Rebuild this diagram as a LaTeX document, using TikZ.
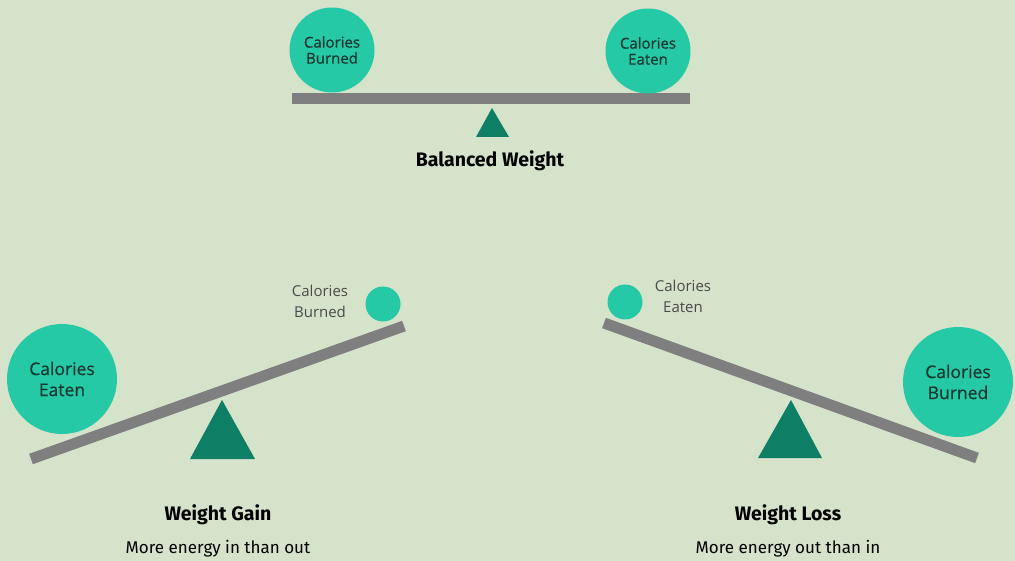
\documentclass[tikz,border=0pt]{standalone}
\usepackage{fontspec}
\setmainfont{Fira Sans}
\newfontfamily\circfont{Open Sans}
\newfontfamily\circfontb{Open Sans}[FakeBold=0.6]
\usetikzlibrary{shapes.geometric}
\definecolor{bg}{HTML}{D5E3CB}
\definecolor{teal}{HTML}{26C9A5}
\definecolor{fulcrum}{HTML}{0E7F64}
\definecolor{beamgray}{HTML}{7F7F7F}
\definecolor{circtext}{HTML}{163830}
\definecolor{lbltext}{HTML}{4A4A4A}
\tikzset{
  ball/.style={circle, fill=teal, inner sep=0pt, minimum size=#1, align=center, text=circtext, font=\circfontb\fontsize{15}{18}\selectfont},
  beam/.style={draw=beamgray, line width=11pt, line cap=butt},
  pivot/.style={fill=fulcrum},
  sidelabel/.style={align=center, text=lbltext, font=\circfont\fontsize{15}{21}\selectfont},
  title/.style={font=\bfseries\fontsize{19.5}{22}\selectfont, text=black},
  subtitle/.style={font=\fontsize{17}{20}\selectfont, text=black},
}
\begin{document}
\begin{tikzpicture}[x=1pt,y=-1pt]
\fill[bg] (0,0) rectangle (1015,561);
\useasboundingbox (0,0) rectangle (1015,561);
% top balanced
\coordinate (tl) at (292,99);
\coordinate (tr) at (690,99);
\draw[beam] (tl) -- (tr);
\fill[pivot] (492,108) -- (509,137) -- (476,137) -- cycle;
\node[ball=85pt] (tb) at (332,50) {Calories\\[-2pt]Burned};
\node[ball=85pt] (te) at (648,51) {Calories\\[-2pt]Eaten};
\node[title] (bw) at (490,161) {Balanced Weight};
% bottom left: weight gain
\coordinate (gl) at (31,459);
\coordinate (gr) at (404,326);
\draw[beam] (gl) -- (gr);
\fill[pivot] (222,400) -- (255,459) -- (190,459) -- cycle;
\node[ball=110pt, font=\circfontb\fontsize{17.5}{21}\selectfont] (ge) at (62,379) {Calories\\Eaten};
\node[ball=35pt] (gb) at (383,304) {};
\node[sidelabel] (gbl) at (320,301) {Calories\\Burned};
\node[title] (wg) at (218,515) {Weight Gain};
\node[subtitle] (wgs) at (218,549) {More energy in than out};
% bottom right: weight loss
\coordinate (ll) at (604,323);
\coordinate (lr) at (977,458);
\draw[beam] (ll) -- (lr);
\fill[pivot] (791,400) -- (822,458) -- (758,458) -- cycle;
\node[ball=35pt] (le) at (625,302) {};
\node[sidelabel] (lel) at (683,296) {Calories\\Eaten};
\node[ball=110pt, font=\circfontb\fontsize{17.5}{21}\selectfont] (lb) at (958,382) {Calories\\Burned};
\node[title] (wl) at (788,515) {Weight Loss};
\node[subtitle] (wls) at (788,549) {More energy out than in};
\end{tikzpicture}
\end{document}
